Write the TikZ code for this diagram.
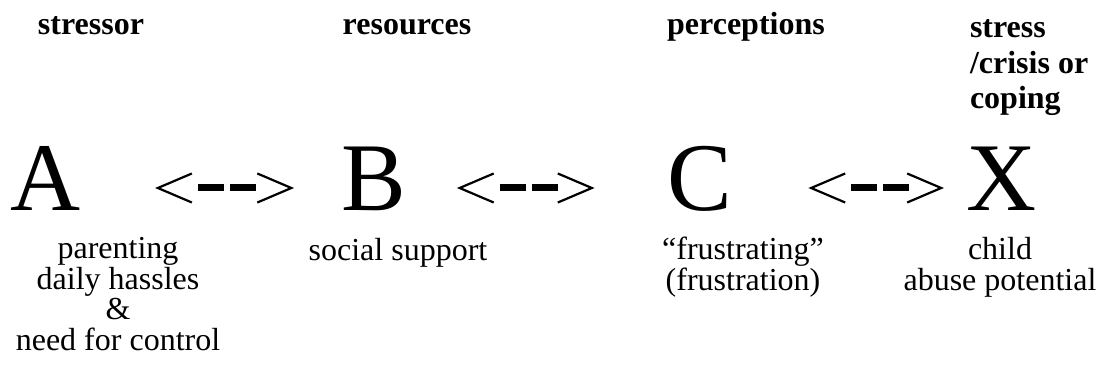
\documentclass[tikz,border=0pt]{standalone}
\usepackage{fontspec}
\setmainfont{Liberation Serif}
\usetikzlibrary{arrows.meta}

\begin{document}
\begin{tikzpicture}[x=1pt, y=-1pt,
    every node/.style={inner sep=0pt, outer sep=0pt},
    head/.style={font=\fontsize{32}{35.5}\selectfont\bfseries, anchor=base},
    letter/.style={font=\fontsize{97}{97}\selectfont, anchor=base},
    note/.style={font=\fontsize{32}{30.5}\selectfont, align=center, anchor=base},
    barb/.tip={Straight Barb[line width=2.2pt, length=34pt, width=29pt]},
    link/.style={barb-barb, line width=7pt,
      dash pattern=on 0pt off 39pt on 26pt off 6pt on 26pt off 80pt}]
  \useasboundingbox[fill=white] (0, 0) rectangle (1112, 377);

  % Headings over the four columns (base = last line)
  \node[head] (hA) at (91, 35) {stressor};
  \node[head] (hB) at (407, 35) {resources};
  \node[head] (hC) at (746, 35) {perceptions};
  \node[head, anchor=base west, align=left] (hX) at (970, 109) {stress\\/crisis or\\coping};

  % The four factors
  \node[letter] (A) at (46, 211) {A};
  \node[letter] (B) at (373.5, 211) {B};
  \node[letter] (C) at (700, 211) {C};
  \node[letter] (X) at (1001.5, 211) {X};

  % Two-way links between them
  \draw[link, shorten <=74pt, shorten >=47pt] ([yshift=23pt]A.base east) -- ([yshift=23pt]B.base west);
  \draw[link, shorten <=51pt, shorten >=73pt] ([yshift=23pt]B.base east) -- ([yshift=23pt]C.base west);
  \draw[link, shorten <=76pt, shorten >=22.5pt] ([yshift=23pt]C.base east) -- ([yshift=23pt]X.base west);

  % What each factor stands for
  \node[note] (nA) at (118, 350) {parenting\\daily hassles\\\&\\need for control};
  \node[note] (nB) at (398, 260) {social support};
  \node[note] (nC) at (743, 290) {“frustrating”\\(frustration)};
  \node[note] (nX) at (1000, 290) {child\\abuse potential};
\end{tikzpicture}
\end{document}
